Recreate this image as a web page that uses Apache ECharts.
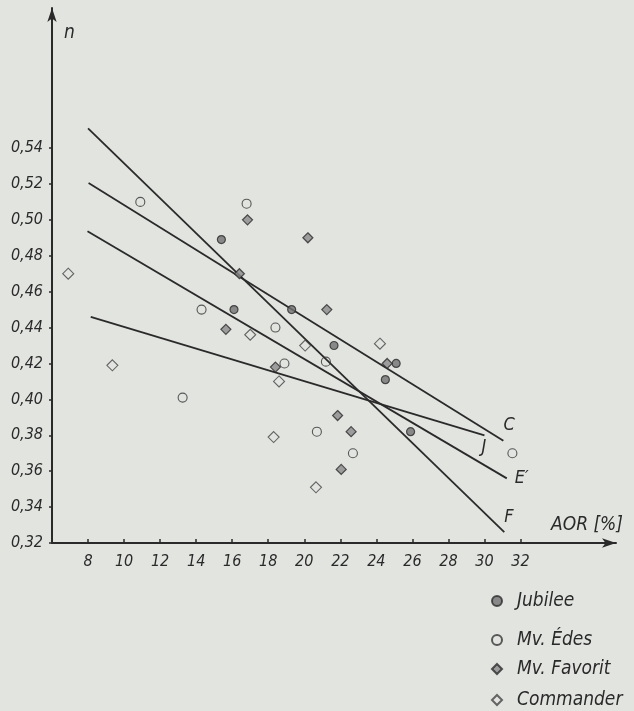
<!DOCTYPE html>
<html><head><meta charset="utf-8">
<script src="https://cdn.jsdelivr.net/npm/echarts@6/dist/echarts.min.js"></script>
<style>html,body{margin:0;padding:0;background:#e2e4e0;}#c{width:634px;height:711px;}</style>
</head><body><div id="c"></div>
<script>
// ---- data ----
const xTicks = [8,10,12,14,16,18,20,22,24,26,28,30,32];
const yTicks = [0.32,0.34,0.36,0.38,0.40,0.42,0.44,0.46,0.48,0.50,0.52,0.54];
const seriesNames = ['Jubilee','Mv. Édes','Mv. Favorit','Commander'];
const jubilee = [[15.4,0.489],[16.1,0.450],[19.3,0.450],[21.65,0.430],[24.5,0.411],[25.1,0.420],[25.9,0.382]];
const edes = [[10.9,0.510],[16.8,0.509],[14.3,0.450],[18.4,0.440],[18.9,0.420],[21.2,0.421],[13.25,0.401],[20.7,0.382],[22.7,0.370],[31.55,0.370]];
const favorit = [[16.85,0.500],[20.2,0.490],[16.4,0.470],[15.65,0.439],[21.25,0.450],[18.4,0.418],[24.6,0.420],[21.85,0.391],[22.6,0.382],[22.05,0.361]];
const commander = [[6.9,0.470],[9.35,0.419],[17.0,0.436],[20.05,0.430],[18.6,0.410],[24.2,0.431],[18.3,0.379],[20.65,0.351]];
const lineNames = ['C','J','E′','F'];
const lineC = [[8.03,0.5205],[31.05,0.377]];
const lineJ = [[8.15,0.446],[30.0,0.380]];
const lineE = [[7.97,0.4936],[31.24,0.356]];
const lineF = [[8.0,0.551],[31.1,0.326]];

// ---- chart ----
const FONT = "'DejaVu Sans Condensed','DejaVu Sans',sans-serif";
const INK = '#2a2a2a';
const chart = echarts.init(document.getElementById('c'), null, {renderer:'canvas'});

function lineSeries(name, data, off){
  return {
    type:'line', name:name, data:data, symbol:'none', silent:true, z:2,
    lineStyle:{color:INK, width:1.8},
    endLabel:{show:true, formatter:name, offset:off, color:INK,
      fontFamily:FONT, fontStyle:'italic', fontSize:18}
  };
}
function legendFor(name, top){
  return {
    data:[name], left:486, top:top, orient:'vertical', itemWidth:10, itemHeight:10,
    selectedMode:false,
    textStyle:{fontFamily:FONT, fontStyle:'italic', fontSize:19, color:INK, padding:[0,0,0,10], lineHeight:20}
  };
}

const option = {
  backgroundColor:'#e2e4e0',
  animation:false,
  grid:{left:52, right:18, top:8, bottom:168, containLabel:false},
  xAxis:{
    type:'value', min:6, max:37.3, interval:2,
    axisLine:{show:true, symbol:['none','arrow'], symbolSize:[7,14], lineStyle:{color:INK, width:2}},
    axisTick:{show:true, inside:true, length:4, customValues:xTicks, lineStyle:{color:INK, width:1.5}},
    axisLabel:{customValues:xTicks, margin:11, color:INK, fontFamily:FONT, fontStyle:'italic', fontSize:16},
    splitLine:{show:false}
  },
  yAxis:{
    type:'value', min:0.32, max:0.618, interval:0.02,
    axisLine:{show:true, symbol:['none','arrow'], symbolSize:[7,14], lineStyle:{color:INK, width:2}},
    axisTick:{show:true, inside:false, length:3, customValues:yTicks, lineStyle:{color:INK, width:1.5}},
    axisLabel:{customValues:yTicks, margin:9, color:INK, fontFamily:FONT, fontStyle:'italic', fontSize:16,
      formatter:v=>v.toFixed(2).replace('.',',')},
    splitLine:{show:false}
  },
  legend:[legendFor(seriesNames[0],586),legendFor(seriesNames[1],625),legendFor(seriesNames[2],654),legendFor(seriesNames[3],685)],
  graphic:[
    {type:'text', left:64, top:24, style:{text:'n', font:"italic 19px "+FONT, fill:INK}},
    {type:'text', left:551, top:516, style:{text:'AOR [%]', font:"italic 19px "+FONT, fill:INK}}
  ],
  series:[
    lineSeries(lineNames[0], lineC, [-8,-15]),
    lineSeries(lineNames[1], lineJ, [-11,12]),
    lineSeries(lineNames[2], lineE, [0,0]),
    lineSeries(lineNames[3], lineF, [-8,-15]),
    {type:'scatter', name:seriesNames[0], data:jubilee, symbol:'circle', symbolSize:8, z:5,
      itemStyle:{color:'#707070', borderColor:INK, borderWidth:1.2}},
    {type:'scatter', name:seriesNames[1], data:edes, symbol:'circle', symbolSize:9, z:5,
      itemStyle:{color:'rgba(0,0,0,0)', borderColor:'#333', borderWidth:1.1}},
    {type:'scatter', name:seriesNames[2], data:favorit, symbol:'diamond', symbolSize:10, z:5,
      itemStyle:{color:'#8a8a8a', borderColor:INK, borderWidth:1.2}},
    {type:'scatter', name:seriesNames[3], data:commander, symbol:'diamond', symbolSize:11, z:5,
      itemStyle:{color:'rgba(0,0,0,0)', borderColor:'#444', borderWidth:1.1}}
  ]
};
chart.setOption(option);
</script>
</body></html>
